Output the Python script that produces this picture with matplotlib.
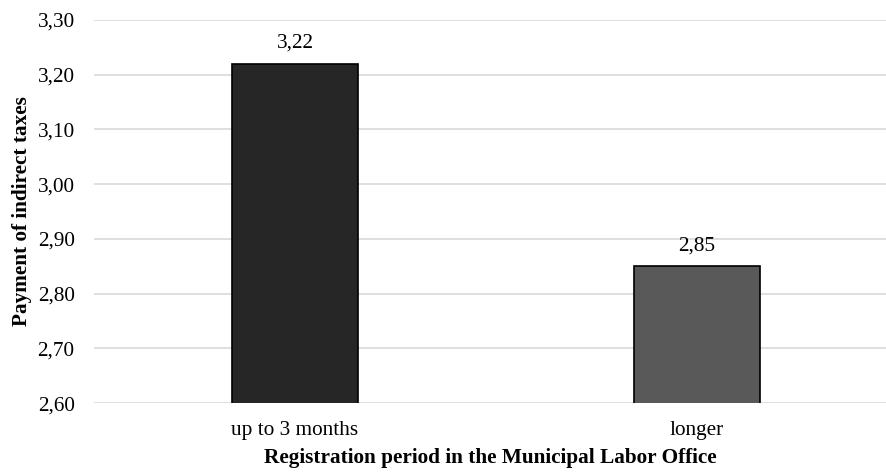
import matplotlib
matplotlib.use("Agg")
import matplotlib.pyplot as plt
from matplotlib.ticker import FuncFormatter

categories = ["up to 3 months", "longer"]
values = [3.22, 2.85]
colors = ["#262626", "#595959"]
yticks = [2.60, 2.70, 2.80, 2.90, 3.00, 3.10, 3.20, 3.30]

plt.rcParams['font.family'] = ['Liberation Serif', 'DejaVu Serif']
FS = 15.3

fig = plt.figure(figsize=(8.87, 4.72), dpi=100)
ax = fig.add_axes([0.106, 0.146, 0.894, 0.812])

x = range(len(categories))
bars = ax.bar(x, values, width=0.315, color=colors, edgecolor="black", linewidth=1.2, zorder=3)
for xi, v in zip(x, values):
    ax.annotate(f"{v:.2f}".replace(".", ","), (xi, v), xytext=(0, 8), textcoords="offset points",
                ha="center", va="bottom", fontsize=FS)

ax.set_ylim(2.60, 3.30)
ax.set_xlim(-0.5, 1.473)
ax.set_yticks(yticks)
ax.yaxis.set_major_formatter(FuncFormatter(lambda v, p: f"{v:.2f}".replace(".", ",")))
ax.set_xticks(list(x))
ax.set_xticklabels(categories)
ax.tick_params(axis="both", length=0, labelsize=FS)
ax.tick_params(axis="x", pad=13)
ax.tick_params(axis="y", pad=14)
ax.grid(axis="y", color="#d9d9d9", linewidth=1.2, zorder=0)
for s in ax.spines.values():
    s.set_visible(False)

ax.set_xlabel("Registration period in the Municipal Labor Office", fontsize=FS, fontweight="bold", labelpad=6)
ax.set_ylabel("Payment of indirect taxes", fontsize=FS, fontweight="bold", labelpad=4)

fig.savefig("out.png", dpi=100)
